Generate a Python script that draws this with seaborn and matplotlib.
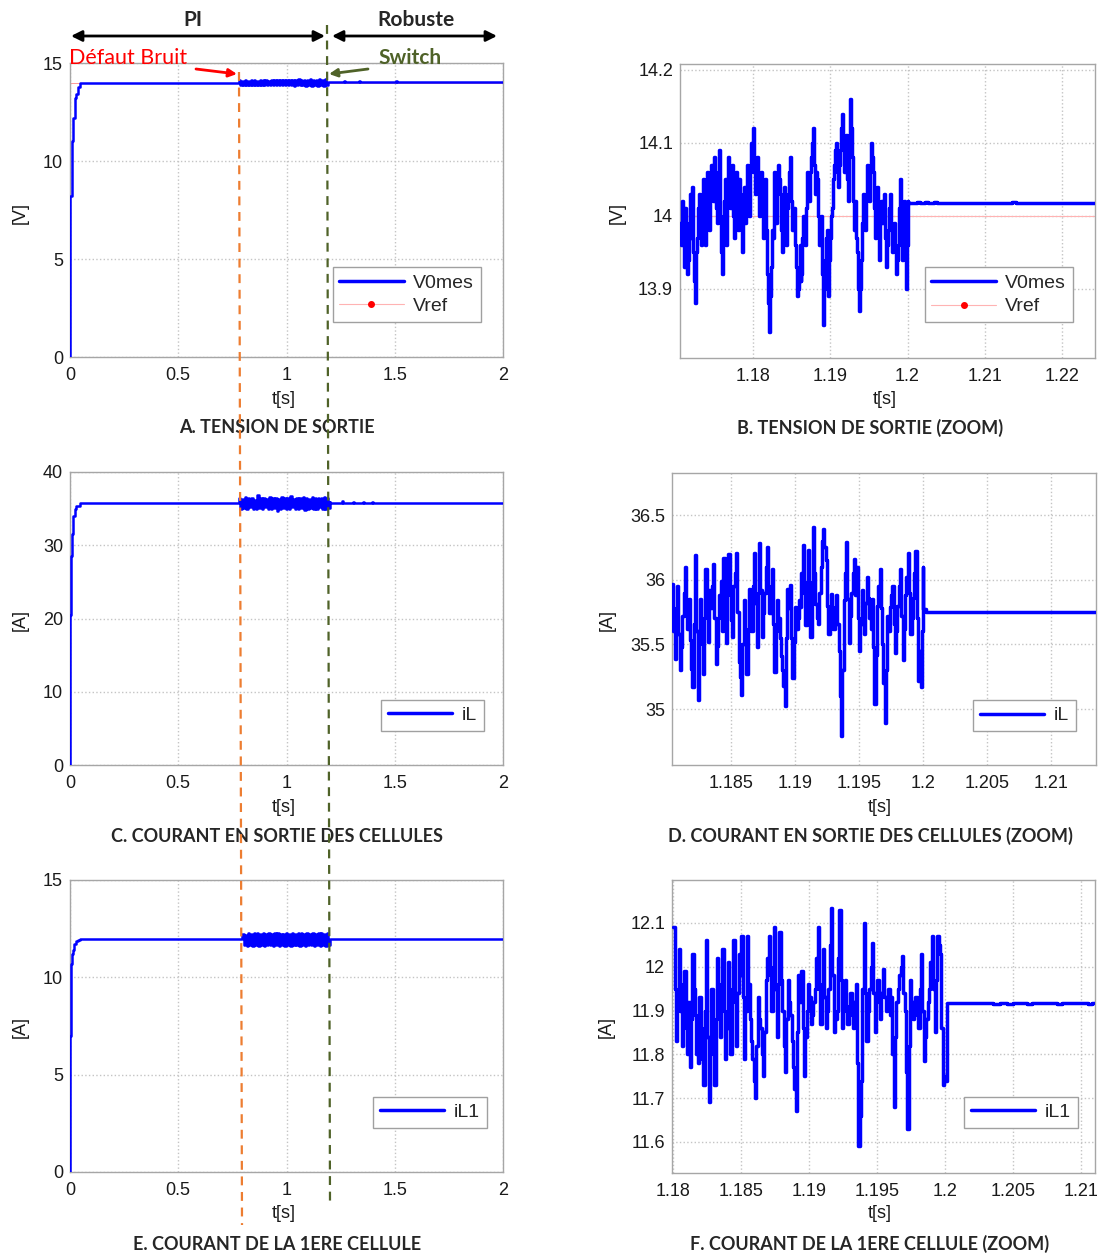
import numpy as np
import seaborn as sns
import matplotlib.pyplot as plt
from matplotlib.lines import Line2D
from matplotlib.ticker import FormatStrFormatter

# ---------------- data ----------------
# A. output voltage, full run (step response, noise fault, then robust control)
vout_rise_t = [0, 0, 0.002, 0.007, 0.012, 0.014, 0.022, 0.025, 0.030, 0.037, 0.045, 0.78]
vout_rise_v = [0, 7.9, 8.2, 11.0, 11.1, 12.2, 12.3, 13.2, 13.4, 13.8, 14.0, 14.0]
vout_band = [14.12, 13.88, 14.10, 13.90, 14.13, 13.87, 14.09, 13.89, 14.12, 13.86, 14.11, 13.90,
             14.10, 13.88, 14.13, 13.89, 14.11, 13.87, 14.12, 13.90, 14.10, 13.88, 14.14, 13.86,
             14.11, 13.89, 14.12, 13.87, 14.13, 13.88, 14.11, 13.86, 14.15, 13.87, 14.12, 13.89,
             14.14, 13.85, 14.13, 13.88, 14.16, 13.86, 14.12, 13.87, 14.15, 13.85, 14.13, 13.86,
             14.16, 13.84, 14.14, 13.87, 14.15, 13.85, 14.16, 13.86, 14.14, 13.84, 14.17, 13.86, 14.05]
vout_tail_t = [1.19, 1.26, 1.265, 1.27, 1.33, 1.335, 1.34, 1.41, 1.415, 1.42, 1.5, 1.505, 1.51, 1.57, 1.575, 1.58, 2.0]
vout_tail_v = [14.02, 14.02, 14.07, 14.02, 14.02, 14.06, 14.02, 14.02, 14.05, 14.02, 14.02, 14.06, 14.02, 14.02, 14.05, 14.02, 14.02]
vref = 14.0

# B. output voltage, zoom around the switch (one sample every 0.125 ms from 1.1705 s)
vout_zoom = [13.99, 13.96, 14.02, 14.00, 13.93, 14.01, 13.97, 13.92, 13.94, 13.99,
             14.03, 13.97, 14.04, 14.00, 13.95, 13.91, 13.88, 13.95, 13.97, 14.01,
             14.03, 14.00, 13.96, 14.02, 14.05, 13.99, 13.96, 14.03, 14.06, 14.01,
             13.98, 14.04, 14.07, 14.03, 14.02, 14.08, 14.06, 14.01, 13.99, 14.05,
             14.09, 14.04, 14.00, 13.95, 13.92, 13.98, 14.02, 14.05, 13.96, 14.04,
             14.08, 14.03, 14.01, 14.05, 14.07, 14.00, 13.97, 14.03, 14.06, 14.00,
             13.98, 14.05, 14.03, 13.98, 13.95, 14.00, 14.04, 13.99, 14.01, 14.06,
             14.07, 14.02, 14.00, 14.06, 14.10, 14.07, 14.12, 14.06, 14.03, 14.07,
             14.08, 14.03, 14.00, 14.04, 14.06, 14.01, 13.97, 14.02, 14.05, 13.98,
             13.92, 13.88, 13.84, 13.89, 13.93, 13.98, 13.97, 14.02, 14.06, 14.03,
             13.99, 14.04, 14.07, 14.05, 14.03, 13.98, 13.95, 14.00, 14.04, 13.99,
             13.96, 14.01, 14.03, 14.06, 14.08, 14.02, 13.98, 14.00, 14.01, 13.96,
             13.93, 13.89, 13.90, 13.93, 13.96, 13.91, 13.92, 13.97, 14.00, 13.98,
             13.96, 14.01, 14.06, 14.04, 14.02, 14.06, 14.08, 14.10, 14.12, 14.07,
             14.03, 14.06, 14.05, 14.00, 13.96, 13.99, 14.00, 13.92, 13.85, 13.90,
             13.94, 13.97, 13.98, 13.93, 13.89, 13.94, 13.97, 14.00, 14.01, 14.05,
             14.07, 14.09, 14.10, 14.06, 14.04, 14.07, 14.09, 14.12, 14.14, 14.09,
             14.06, 14.09, 14.11, 14.05, 14.02, 14.09, 14.16, 14.12, 14.08, 14.02,
             13.98, 14.00, 14.02, 13.97, 13.95, 13.90, 13.87, 13.90, 13.94, 13.99,
             14.03, 14.00, 13.98, 14.03, 14.07, 14.04, 14.02, 14.06, 14.10, 14.08,
             14.06, 14.01, 13.97, 14.00, 14.04, 13.98, 13.94, 13.99, 14.02, 14.00,
             13.99, 14.02, 14.03, 13.97, 13.93, 13.96, 13.98, 14.01, 14.03, 13.98,
             13.95, 13.98, 13.99, 13.95, 13.92, 13.94, 13.96, 14.01, 14.05, 13.99,
             13.94, 13.98, 14.02, 13.95, 13.90, 13.96, 14.02]
vout_zoom_tail_t = [1.2, 1.2012, 1.2016, 1.2022, 1.2026, 1.2034, 1.2038, 1.2136, 1.2140, 1.2243]
vout_zoom_tail_v = [14.017, 14.019, 14.017, 14.019, 14.017, 14.019, 14.017, 14.019, 14.017, 14.017]

# C. inductor current iL, full run
il_rise_t = [0, 0, 0.003, 0.005, 0.008, 0.012, 0.016, 0.022, 0.030, 0.045, 0.78]
il_rise_v = [0, 20.5, 27.8, 28.5, 31.5, 33.0, 34.0, 35.0, 35.4, 35.75, 35.75]
il_band = [36.5, 35.0, 36.3, 35.1, 36.6, 34.9, 36.4, 35.2, 36.5, 35.0, 36.2, 34.9, 36.8, 35.1,
           36.4, 35.0, 36.5, 35.2, 36.3, 34.9, 36.6, 35.0, 36.4, 35.1, 36.5, 34.7, 36.3, 35.0,
           36.6, 35.1, 36.4, 34.9, 36.5, 35.0, 36.7, 35.2, 36.3, 34.9, 36.5, 35.0, 36.4, 35.1,
           36.6, 34.8, 36.5, 35.0, 36.3, 35.1, 36.6, 34.9, 36.4, 35.0, 36.5, 35.2, 36.4, 34.9,
           36.6, 35.0, 36.5, 35.1, 35.9]
il_tail_t = [1.2, 1.25, 1.255, 1.26, 1.3, 1.305, 1.31, 1.35, 1.355, 1.36, 1.39, 1.395, 1.4, 2.0]
il_tail_v = [35.8, 35.8, 36.0, 35.8, 35.8, 35.95, 35.8, 35.8, 35.95, 35.8, 35.8, 35.9, 35.75, 35.75]

# D. iL zoom (one sample every 0.1 ms from 1.1804 s)
il_zoom = [35.97, 35.60, 35.39, 35.78, 35.95, 35.58, 35.30, 35.48, 35.72, 35.90,
           36.10, 35.80, 35.62, 35.85, 35.53, 35.31, 35.17, 35.66, 36.19, 35.60,
           35.07, 35.50, 35.85, 35.61, 35.27, 35.70, 36.08, 35.80, 35.52, 35.92,
           35.78, 35.95, 36.12, 35.70, 35.35, 35.49, 35.70, 35.88, 35.99, 35.60,
           36.17, 35.82, 35.51, 35.95, 36.20, 35.88, 35.69, 35.56, 35.95, 36.05,
           36.21, 35.75, 35.36, 35.25, 35.11, 35.50, 35.84, 35.58, 35.27, 35.62,
           35.93, 35.72, 35.60, 35.95, 36.21, 35.82, 35.48, 35.90, 36.28, 35.92,
           35.56, 35.74, 35.90, 36.10, 36.25, 35.95, 35.74, 35.88, 36.08, 35.66,
           35.29, 35.60, 35.84, 35.70, 35.55, 35.41, 35.30, 35.18, 35.02, 35.55,
           35.93, 35.78, 35.96, 35.55, 35.24, 35.52, 35.79, 35.62, 35.70, 35.84,
           35.79, 36.05, 36.27, 35.90, 35.65, 35.98, 36.23, 35.80, 35.56, 35.98,
           36.41, 36.05, 35.81, 35.70, 35.66, 35.90, 36.10, 36.30, 36.39, 36.25,
           36.15, 35.80, 35.58, 35.74, 35.89, 35.70, 35.62, 35.79, 35.88, 35.66,
           35.45, 35.10, 34.79, 35.30, 35.84, 36.05, 36.29, 35.85, 35.51, 35.72,
           35.90, 36.05, 36.16, 35.88, 36.10, 35.70, 35.45, 35.66, 35.92, 35.75,
           35.58, 35.82, 36.02, 35.86, 35.70, 35.62, 35.85, 35.48, 35.04, 35.42,
           35.80, 35.95, 36.08, 35.78, 35.50, 35.20, 34.89, 35.30, 35.72, 35.60,
           35.79, 35.88, 35.95, 35.66, 35.43, 35.60, 35.80, 35.95, 36.08, 35.72,
           35.38, 35.62, 35.88, 36.02, 36.21, 35.90, 35.58, 35.70, 35.86, 36.05,
           36.22, 35.70, 35.22, 35.45, 35.17, 35.60, 36.10]
il_zoom_tail_t = [1.2, 1.2002, 1.2135]
il_zoom_tail_v = [35.77, 35.75, 35.75]

# E. first cell current iL1, full run
il1_rise_t = [0, 0, 0.003, 0.005, 0.010, 0.014, 0.020, 0.028, 0.036, 0.045, 0.795]
il1_rise_v = [0, 7.0, 10.4, 10.7, 11.2, 11.4, 11.7, 11.85, 11.9, 11.95, 11.95]
il1_band = [12.25, 11.65, 12.20, 11.62, 12.28, 11.68, 12.22, 11.60, 12.26, 11.66, 12.30, 11.63,
            12.24, 11.67, 12.27, 11.61, 12.22, 11.65, 12.29, 11.64, 12.23, 11.62, 12.26, 11.66,
            12.28, 11.60, 12.24, 11.65, 12.21, 11.63, 12.27, 11.67, 12.25, 11.61, 12.30, 11.64,
            12.22, 11.66, 12.26, 11.62, 12.28, 11.65, 12.23, 11.60, 12.27, 11.64, 12.25, 11.66,
            12.29, 11.62, 12.24, 11.65, 12.26, 11.61, 12.28, 11.64, 12.23, 11.63, 12.27, 11.66, 11.95]
il1_tail_t = [1.2, 2.0]
il1_tail_v = [11.95, 11.95]

# F. iL1 zoom (one sample every 0.1 ms from 1.18 s)
il1_zoom = [12.09, 11.95, 11.83, 11.92, 12.04, 11.90, 11.82, 11.96, 11.99, 11.86,
            11.80, 11.92, 11.77, 11.88, 12.03, 11.95, 11.89, 11.80, 11.78, 11.93,
            11.86, 11.79, 11.73, 11.90, 12.06, 11.84, 11.69, 11.82, 11.95, 11.80,
            11.73, 11.88, 12.02, 11.92, 11.84, 11.96, 12.04, 11.90, 11.79, 11.86,
            12.01, 11.88, 11.80, 11.95, 12.06, 11.92, 11.82, 11.94, 12.03, 11.98,
            12.07, 11.93, 11.79, 11.90, 12.07, 11.96, 11.88, 11.83, 11.79, 11.74,
            11.70, 11.82, 11.93, 11.88, 11.86, 11.80, 11.75, 11.85, 11.97, 12.02,
            12.07, 11.98, 11.90, 12.00, 12.09, 11.95, 11.84, 11.96, 12.08, 11.97,
            11.90, 11.82, 11.76, 11.88, 11.97, 11.92, 11.89, 11.83, 11.77, 11.72,
            11.67, 11.85, 11.98, 11.92, 11.99, 11.86, 11.75, 11.84, 11.90, 11.96,
            11.93, 11.87, 11.89, 11.92, 11.95, 12.02, 12.09, 11.95, 11.87, 11.96,
            12.04, 11.93, 11.86, 11.90, 11.95, 12.05, 12.135, 11.98, 11.85, 11.88,
            11.90, 12.02, 12.13, 11.97, 11.86, 11.92, 11.97, 11.90, 11.87, 11.91,
            11.94, 11.89, 11.86, 11.92, 11.96, 11.78, 11.59, 11.66, 11.74, 11.95,
            12.10, 11.94, 11.83, 11.90, 11.95, 12.00, 12.055, 11.94, 11.85, 11.92,
            11.97, 11.92, 11.88, 11.94, 11.995, 11.93, 11.90, 11.93, 11.95, 11.89,
            11.93, 11.80, 11.68, 11.84, 11.92, 11.95, 11.98, 12.00, 12.025, 11.94,
            11.90, 11.76, 11.63, 11.82, 11.97, 11.92, 11.88, 11.91, 11.93, 11.89,
            11.86, 11.95, 12.03, 11.90, 11.785, 11.84, 11.88, 11.92, 11.95, 12.01,
            12.07, 11.95, 11.85, 11.97, 12.07, 12.05, 12.03, 11.86, 11.73, 11.75,
            11.74]
il1_zoom_tail_t = [1.2001, 1.2035, 1.2040, 1.2045, 1.2050, 1.2060, 1.2064, 1.2082, 1.2086, 1.2105, 1.2108, 1.211]
il1_zoom_tail_v = [11.918, 11.915, 11.918, 11.915, 11.918, 11.916, 11.918, 11.915, 11.918, 11.916, 11.918, 11.918]

# ---------------- figure ----------------
W, H = 1102, 1254
sns.set_theme(style='white')
plt.rcParams['font.family'] = ['Liberation Sans', 'DejaVu Sans']
fig = plt.figure(figsize=(W / 100, H / 100), dpi=100)

BLUE = '#0000ff'
ORANGE = '#ed7d31'
OLIVE = '#4f6228'


def px(x, y):
    return (x / W, 1 - y / H)


def rect(l, t, r, b):
    return [l / W, 1 - b / H, (r - l) / W, (b - t) / H]


def trace(ax, t, y, lw):
    sns.lineplot(x=t, y=y, ax=ax, color=BLUE, lw=lw, estimator=None, sort=False,
                 drawstyle='steps-post', legend=False, zorder=3)


def style(ax, xlim, ylim, xticks, yticks):
    ax.set_xlim(xlim)
    ax.set_ylim(ylim)
    ax.set_xticks(xticks)
    ax.set_yticks(yticks)
    ax.xaxis.set_major_formatter(FormatStrFormatter('%g'))
    ax.yaxis.set_major_formatter(FormatStrFormatter('%g'))
    ax.grid(True, color='#c4c4c4', ls=':', lw=1.0)
    for s in ax.spines.values():
        s.set_color('#a6a6a6')
        s.set_linewidth(1)
    ax.tick_params(direction='in', length=3, color='#a6a6a6', labelsize=13, labelcolor='#1a1a1a')
    ax.tick_params(axis='x', pad=7)
    ax.tick_params(axis='y', pad=5)
    ax.set_xlabel('')
    ax.set_ylabel('')


def legend(ax, labels, anchor, with_ref=False):
    handles = [Line2D([], [], color=BLUE, lw=2.5)]
    if with_ref:
        handles.append(Line2D([], [], color='#ffb3b3', lw=0.8, marker='o', markersize=4,
                              markerfacecolor='red', markeredgecolor='red'))
    leg = ax.legend(handles, labels, loc='lower right', bbox_to_anchor=anchor, borderaxespad=0,
                    frameon=True, fancybox=False, edgecolor='#a0a0a0', framealpha=1,
                    fontsize=14, handlelength=3.3, handletextpad=0.5, borderpad=0.35,
                    labelspacing=0.3, numpoints=1)
    leg.get_frame().set_linewidth(1)


ax_a = fig.add_axes(rect(70, 63, 503, 357))
ax_b = fig.add_axes(rect(680, 64, 1095, 358))
ax_c = fig.add_axes(rect(70, 472, 503, 765))
ax_d = fig.add_axes(rect(672, 473, 1096, 765))
ax_e = fig.add_axes(rect(70, 880, 503, 1172))
ax_f = fig.add_axes(rect(672, 880, 1095, 1173))

# A
sns.lineplot(x=[0, 2], y=[vref, vref], ax=ax_a, color='#ff9a9a', lw=0.7, legend=False, zorder=2)
t_a = vout_rise_t + list(np.linspace(0.78, 1.19, len(vout_band))) + vout_tail_t
v_a = vout_rise_v + vout_band + vout_tail_v
trace(ax_a, t_a, v_a, 1.8)
style(ax_a, (0, 2), (0, 15), [0, 0.5, 1, 1.5, 2], [0, 5, 10, 15])
legend(ax_a, ['V0mes', 'Vref'], (0.949, 0.119), with_ref=True)

# B
sns.lineplot(x=[1.1705, 1.2243], y=[vref, vref], ax=ax_b, color='#ffb3b3', lw=0.8, legend=False, zorder=2)
t_b = list(1.1705 + 0.000125 * np.arange(len(vout_zoom))) + vout_zoom_tail_t
v_b = vout_zoom + vout_zoom_tail_v
trace(ax_b, t_b, v_b, 2.5)
style(ax_b, (1.1705, 1.2243), (13.805, 14.208), [1.18, 1.19, 1.2, 1.21, 1.22], [13.9, 14, 14.1, 14.2])
legend(ax_b, ['V0mes', 'Vref'], (0.947, 0.122), with_ref=True)

# C
t_c = il_rise_t + list(np.linspace(0.78, 1.2, len(il_band))) + il_tail_t
v_c = il_rise_v + il_band + il_tail_v
trace(ax_c, t_c, v_c, 1.8)
style(ax_c, (0, 2), (0, 40), [0, 0.5, 1, 1.5, 2], [0, 10, 20, 30, 40])
legend(ax_c, ['iL'], (0.956, 0.116))

# D
t_d = list(1.1804 + 0.0001 * np.arange(len(il_zoom))) + il_zoom_tail_t
v_d = il_zoom + il_zoom_tail_v
trace(ax_d, t_d, v_d, 2.5)
style(ax_d, (1.1804, 1.2135), (34.567, 36.825), [1.185, 1.19, 1.195, 1.2, 1.205, 1.21], [35, 35.5, 36, 36.5])
legend(ax_d, ['iL'], (0.953, 0.116))

# E
t_e = il1_rise_t + list(np.linspace(0.795, 1.2, len(il1_band))) + il1_tail_t
v_e = il1_rise_v + il1_band + il1_tail_v
trace(ax_e, t_e, v_e, 1.8)
style(ax_e, (0, 2), (0, 15), [0, 0.5, 1, 1.5, 2], [0, 5, 10, 15])
legend(ax_e, ['iL1'], (0.963, 0.151))

# F
t_f = list(1.18 + 0.0001 * np.arange(len(il1_zoom))) + il1_zoom_tail_t
v_f = il1_zoom + il1_zoom_tail_v
trace(ax_f, t_f, v_f, 2.5)
style(ax_f, (1.1799, 1.211), (11.529, 12.198), [1.18, 1.185, 1.19, 1.195, 1.2, 1.205, 1.21],
      [11.6, 11.7, 11.8, 11.9, 12, 12.1])
legend(ax_f, ['iL1'], (0.96, 0.154))

# axis labels
for x, y in [(284, 400), (885, 400), (284, 807), (880, 807), (284, 1214), (880, 1214)]:
    fig.text(*px(x, y), 't[s]', ha='center', va='center', fontsize=13, color='#1a1a1a')
for x, y, s in [(20, 213, '[V]'), (617, 213, '[V]'), (20, 620, '[A]'), (607, 620, '[A]'),
                (20, 1027, '[A]'), (606, 1027, '[A]')]:
    fig.text(*px(x, y), s, ha='center', va='center', rotation=90, fontsize=13, color='#1a1a1a')

# captions
captions = ['A. TENSION DE SORTIE', 'B. TENSION DE SORTIE (ZOOM)',
            'C. COURANT EN SORTIE DES CELLULES', 'D. COURANT EN SORTIE DES CELLULES (ZOOM)',
            'E. COURANT DE LA 1ERE CELLULE', 'F. COURANT DE LA 1ERE CELLULE (ZOOM)']
for (x, y), s in zip([(277, 428), (870, 428), (277, 836), (870, 836), (277, 1244), (870, 1244)], captions):
    fig.text(*px(x, y), s, ha='center', va='center', fontsize=13, fontweight='bold', family='Lato')

# top annotations
fig.text(*px(193, 20), 'PI', ha='center', va='center', fontsize=15, fontweight='bold', family='Lato')
fig.text(*px(416, 20), 'Robuste', ha='center', va='center', fontsize=15, fontweight='bold', family='Lato')
fig.text(*px(128, 58), 'Défaut Bruit', ha='center', va='center', fontsize=15.5, color='red', family='Lato')
fig.text(*px(410, 58), 'Switch', ha='center', va='center', fontsize=15, fontweight='bold', color=OLIVE, family='Lato')

arrow2 = dict(arrowstyle='<|-|>', color='black', lw=2, mutation_scale=16, shrinkA=0, shrinkB=0)
ax_a.annotate('', xy=px(71, 36), xytext=px(325, 36), xycoords='figure fraction',
              textcoords='figure fraction', arrowprops=arrow2, annotation_clip=False)
ax_a.annotate('', xy=px(332, 36), xytext=px(497, 36), xycoords='figure fraction',
              textcoords='figure fraction', arrowprops=arrow2, annotation_clip=False)
ax_a.annotate('', xy=px(237, 74), xytext=px(196, 69), xycoords='figure fraction',
              textcoords='figure fraction', annotation_clip=False,
              arrowprops=dict(arrowstyle='-|>', color='red', lw=2, mutation_scale=12, shrinkA=0, shrinkB=0))
ax_a.annotate('', xy=px(329, 74), xytext=px(368, 69), xycoords='figure fraction',
              textcoords='figure fraction', annotation_clip=False,
              arrowprops=dict(arrowstyle='-|>', color=OLIVE, lw=2, mutation_scale=12, shrinkA=0, shrinkB=0))

# fault / switch markers running through the left column
x0, y0 = px(239, 72)
x1, y1 = px(242, 1225)
fig.add_artist(Line2D([x0, x1], [y0, y1], transform=fig.transFigure, color=ORANGE, lw=1.6,
                      ls=(0, (4, 3)), zorder=10))
x0, y0 = px(327, 25)
x1, y1 = px(330, 1205)
fig.add_artist(Line2D([x0, x1], [y0, y1], transform=fig.transFigure, color=OLIVE, lw=1.6,
                      ls=(0, (4, 3)), zorder=10))

fig.savefig('out.png', dpi=100)
